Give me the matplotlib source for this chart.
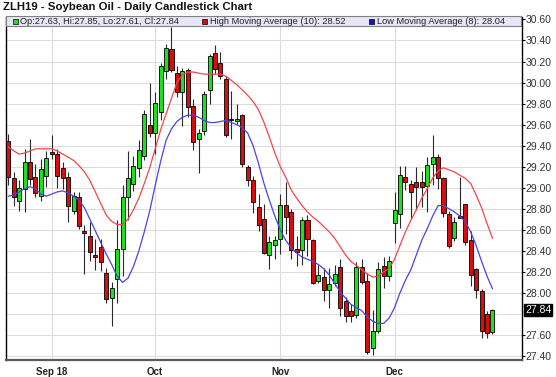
import numpy as np
import matplotlib
matplotlib.use("Agg")
import matplotlib.pyplot as plt
from matplotlib.patches import Rectangle

plt.rcParams['font.family'] = ['Liberation Sans', 'DejaVu Sans']

# daily candles, oldest first
opens = [29.44, 29.09, 28.87, 28.99, 29.24, 29.10, 28.92, 29.11, 29.34, 29.32,
         29.19, 29.10, 28.78, 28.91, 28.59, 28.54, 28.36, 28.44, 28.19, 27.95,
         28.13, 28.42, 28.91, 29.04, 29.19, 29.30, 29.60, 29.52, 29.72, 30.11,
         30.32, 30.09, 29.91, 30.12, 29.78, 29.46, 29.54, 29.93, 30.28, 30.19,
         30.03, 29.65, 29.63, 29.69, 29.20, 29.07, 28.82, 28.70, 28.36, 28.46,
         28.51, 28.84, 28.77, 28.42, 28.41, 28.69, 28.50, 28.11, 28.15, 28.03,
         28.09, 28.25, 27.92, 27.83, 27.79, 28.25, 28.11, 27.48, 27.64, 28.26,
         28.16, 28.66, 28.75, 29.10, 29.04, 29.05, 29.05, 29.02, 29.23, 29.29,
         29.09, 28.75, 28.52, 28.73, 28.85, 28.50, 28.23, 28.02, 27.80, 27.63]
highs = [29.51, 29.15, 29.07, 29.37, 29.46, 29.23, 29.27, 29.35, 29.50, 29.37,
         29.24, 29.15, 28.96, 28.96, 28.65, 28.67, 28.51, 28.51, 28.24, 28.10,
         28.69, 29.03, 29.35, 29.30, 29.45, 29.74, 30.00, 29.91, 30.19, 30.37,
         30.53, 30.16, 30.14, 30.14, 29.84, 29.56, 29.92, 30.27, 30.36, 30.29,
         30.06, 29.92, 29.80, 29.70, 29.22, 29.11, 28.94, 28.85, 28.54, 28.54,
         28.94, 29.05, 28.80, 28.54, 28.72, 28.74, 28.51, 28.27, 28.24, 28.24,
         28.27, 28.32, 27.96, 27.89, 28.29, 28.32, 28.19, 27.84, 28.29, 28.34,
         28.35, 28.96, 29.21, 29.21, 29.07, 29.20, 29.16, 29.29, 29.50, 29.32,
         29.10, 28.78, 28.72, 29.10, 28.85, 28.59, 28.24, 28.04, 27.83, 27.85]
lows = [29.03, 28.83, 28.78, 28.77, 29.03, 28.91, 28.87, 29.01, 29.27, 29.00,
        28.99, 28.67, 28.75, 28.61, 28.18, 28.30, 28.22, 28.21, 27.90, 27.69,
        27.90, 28.16, 28.69, 28.97, 29.10, 29.26, 29.48, 29.32, 29.64, 30.03,
        30.10, 29.86, 29.59, 29.67, 29.36, 29.14, 29.50, 29.80, 30.08, 30.03,
        29.48, 29.46, 29.61, 29.20, 29.02, 28.76, 28.59, 28.37, 28.23, 28.32,
        28.37, 28.56, 28.32, 28.26, 28.27, 28.35, 28.08, 28.09, 27.92, 27.86,
        28.07, 27.78, 27.72, 27.72, 27.76, 28.08, 27.42, 27.41, 27.62, 28.05,
        28.11, 28.47, 28.62, 28.98, 28.70, 28.79, 28.82, 28.77, 29.03, 28.99,
        28.72, 28.43, 28.49, 28.71, 28.46, 28.07, 27.95, 27.57, 27.57, 27.61]
closes = [29.10, 28.91, 29.00, 29.24, 29.08, 28.95, 29.18, 29.28, 29.32, 29.11,
          29.09, 28.83, 28.92, 28.64, 28.57, 28.39, 28.34, 28.29, 27.94, 28.05,
          28.42, 28.91, 29.09, 29.21, 29.36, 29.70, 29.52, 29.81, 30.16, 30.33,
          30.12, 29.91, 30.11, 29.77, 29.43, 29.52, 29.89, 30.25, 30.13, 30.06,
          29.50, 29.64, 29.65, 29.23, 29.07, 28.86, 28.65, 28.38, 28.48, 28.50,
          28.84, 28.72, 28.41, 28.39, 28.69, 28.51, 28.09, 28.17, 28.03, 28.08,
          28.18, 27.86, 27.78, 27.78, 28.25, 28.10, 27.44, 27.64, 28.23, 28.16,
          28.30, 28.79, 29.12, 29.05, 28.96, 29.01, 29.01, 29.22, 29.29, 29.09,
          28.76, 28.45, 28.67, 28.71, 28.48, 28.17, 28.03, 27.64, 27.62, 27.84]

# study lines as drawn on the chart
high_ma10 = [29.39, 29.35, 29.32, 29.33, 29.35, 29.37, 29.37, 29.37, 29.37, 29.35,
             29.32, 29.29, 29.26, 29.21, 29.15, 29.07, 28.96, 28.85, 28.74, 28.68,
             28.65, 28.65, 28.70, 28.79, 28.90, 29.04, 29.19, 29.37, 29.55, 29.70,
             29.85, 30.00, 30.07, 30.10, 30.10, 30.09, 30.08, 30.08, 30.08, 30.08,
             30.06, 30.02, 29.98, 29.93, 29.88, 29.82, 29.74, 29.62, 29.48, 29.33,
             29.20, 29.10, 28.98, 28.90, 28.83, 28.77, 28.72, 28.68, 28.63, 28.58,
             28.52, 28.44, 28.36, 28.30, 28.26, 28.22, 28.18, 28.15, 28.16, 28.20,
             28.23, 28.32, 28.45, 28.58, 28.69, 28.79, 28.90, 28.99, 29.09, 29.16,
             29.19, 29.17, 29.15, 29.12, 29.09, 29.04, 28.93, 28.81, 28.66, 28.52]
low_ma8 = [28.92, 28.93, 28.96, 28.99, 29.01, 28.99, 28.94, 28.92, 28.94, 28.96,
           28.97, 28.95, 28.92, 28.88, 28.81, 28.70, 28.59, 28.48, 28.37, 28.27,
           28.16, 28.10, 28.14, 28.25, 28.40, 28.58, 28.78, 29.02, 29.25, 29.45,
           29.56, 29.63, 29.67, 29.69, 29.69, 29.67, 29.64, 29.62, 29.62, 29.63,
           29.64, 29.62, 29.60, 29.57, 29.52, 29.40, 29.23, 29.04, 28.88, 28.73,
           28.60, 28.50, 28.43, 28.38, 28.34, 28.32, 28.30, 28.27, 28.23, 28.17,
           28.09, 28.01, 27.95, 27.89, 27.86, 27.83, 27.77, 27.73, 27.71, 27.71,
           27.76, 27.86, 28.00, 28.12, 28.22, 28.36, 28.50, 28.61, 28.73, 28.83,
           28.83, 28.80, 28.77, 28.73, 28.68, 28.58, 28.45, 28.30, 28.16, 28.04]

month_pos = [8, 27, 50, 71]
month_labels = ["Sep 18", "Oct", "Nov", "Dec"]
price_ticks = [27.40, 27.60, 27.80, 28.00, 28.20, 28.40, 28.60, 28.80, 29.00,
               29.20, 29.40, 29.60, 29.80, 30.00, 30.20, 30.40, 30.60]

GREEN = "#1EE01E"
RED = "#D80E0E"
W, H = 556, 377


def px(x):
    return x / W


def py(y):
    return 1 - y / H


o = np.array(opens)
h = np.array(highs)
l = np.array(lows)
c = np.array(closes)
x = np.arange(len(o))
last = c[-1]

fig = plt.figure(figsize=(W / 100, H / 100), dpi=100)
ax = fig.add_axes([px(6), py(360), px(522) - px(6), py(16.5) - py(360)])

# grid
for p in price_ticks:
    ax.axhline(p, color="#DCDCDC", lw=0.8, zorder=0)
for m in month_pos:
    ax.axvline(m, color="#DCDCDC", lw=0.8, zorder=0)

# candles
up = c >= o
body_lo = np.minimum(o, c)
body_h = np.maximum(np.abs(c - o), 0.008)
ax.vlines(x, l, h, color="#2a2a2a", lw=0.8, zorder=2)
ax.bar(x, body_h, bottom=body_lo, width=0.74, color=np.where(up, GREEN, RED),
       edgecolor="black", linewidth=0.6, zorder=3)

# moving averages
ax.plot(x, high_ma10, color="#F04848", lw=0.9, zorder=4)
ax.plot(x, low_ma8, color="#4646E6", lw=0.9, zorder=4)

ax.set_xlim(-0.42, 94.43)
ax.set_ylim(27.362, 30.628)

ax.set_xticks(month_pos)
ax.set_xticklabels(month_labels, fontsize=7, fontweight="bold", color="#222222")
ax.tick_params(axis="x", length=0, pad=5)

ax.yaxis.tick_right()
shown = [p for p in price_ticks if abs(p - last) > 0.1]
ax.set_yticks(shown)
ax.set_yticklabels([f"{p:.2f}" for p in shown], fontsize=7.5, color="#333333")
ax.tick_params(axis="y", length=2, width=0.8, pad=0.8, color="black")

ax.spines["top"].set_visible(False)
ax.spines["left"].set_color("black")
ax.spines["right"].set_color("black")
ax.spines["left"].set_linewidth(1)
ax.spines["right"].set_linewidth(1)
ax.spines["bottom"].set_color("#5a5a5a")
ax.spines["bottom"].set_linewidth(1.6)

# last price marker on the price axis
ax.annotate(f"{last:.2f}", xy=(1, last), xycoords=("axes fraction", "data"),
            xytext=(2.2, 0), textcoords="offset points", va="center", ha="left",
            fontsize=7.5, color="white",
            bbox=dict(boxstyle="square,pad=0.1", fc="black", ec="black"))

# title
fig.text(px(3), py(6.5), "ZLH19 - Soybean Oil - Daily Candlestick Chart",
         fontsize=8.2, fontweight="bold", va="center", ha="left", color="#111111")

# legend strip
fig.patches.append(Rectangle((px(6), py(26)), px(521) - px(6), py(16.5) - py(26),
                             transform=fig.transFigure, fc="#E6E6F8", ec="#808080",
                             lw=0.8, zorder=5))
legend_items = [
    (12.5, GREEN, f"Op:{o[-1]:.2f}, Hi:{h[-1]:.2f}, Lo:{l[-1]:.2f}, Cl:{c[-1]:.2f}"),
    (202, RED, f"High Moving Average (10): {high_ma10[-1]:.2f}"),
    (369, "#1010D0", f"Low Moving Average (8): {low_ma8[-1]:.2f}"),
]
for lx, col, txt in legend_items:
    fig.patches.append(Rectangle((px(lx), py(23.7)), px(5), 5 / H,
                                 transform=fig.transFigure, fc=col, ec="black",
                                 lw=0.5, zorder=6))
    fig.text(px(lx + 8), py(21.3), txt, fontsize=6.7, va="center", ha="left",
             color="#222222", zorder=7)

fig.savefig("out.png", dpi=100)
